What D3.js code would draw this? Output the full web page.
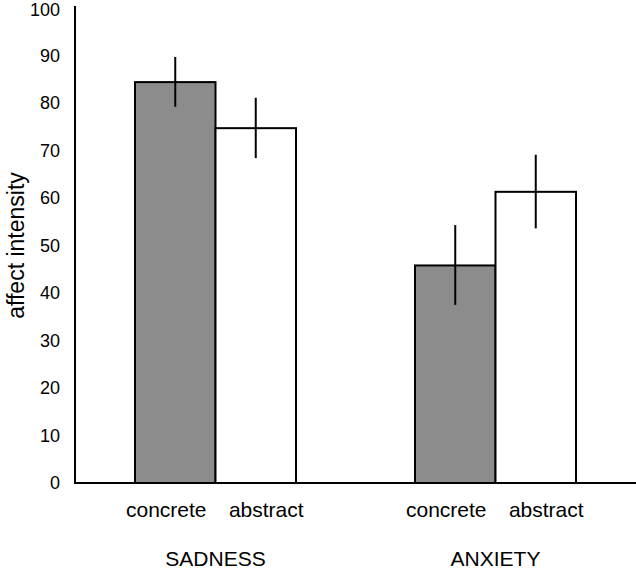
<!DOCTYPE html>
<html>
<head>
<meta charset="utf-8">
<script src="https://cdn.jsdelivr.net/npm/d3@7"></script>
<style>
  html, body { margin: 0; padding: 0; background: #fff; }
  svg { display: block; font-family: "Liberation Sans", Arial, Helvetica, sans-serif; }
</style>
</head>
<body>
<script>
// Data
const groups = ["SADNESS", "ANXIETY"];
const conditions = ["concrete", "abstract"];
const means = [[84.4, 74.7], [45.8, 61.3]];
const errLow = [[79.2, 68.4], [37.5, 53.6]];
const errHigh = [[89.7, 81.1], [54.3, 69.1]];
const yTicks = [0, 10, 20, 30, 40, 50, 60, 70, 80, 90, 100];
const fills = ["#8c8c8c", "#ffffff"];

const W = 636, H = 570;
const svg = d3.select("body").append("svg").attr("width", W).attr("height", H);

const y = d3.scaleLinear().domain([0, 100]).range([483, 8]);
const x0 = d3.scaleBand().domain(groups).range([135, 576]).paddingInner(0.425).paddingOuter(0);
const x1 = d3.scaleBand().domain(conditions).range([0, x0.bandwidth()]).padding(0);

// Bars
groups.forEach((g, gi) => {
  const gEl = svg.append("g").attr("transform", `translate(${x0(g)},0)`);
  conditions.forEach((c, ci) => {
    gEl.append("rect")
      .attr("x", x1(c))
      .attr("y", y(means[gi][ci]))
      .attr("width", x1.bandwidth())
      .attr("height", y(0) - y(means[gi][ci]))
      .attr("fill", fills[ci])
      .attr("stroke", "#000")
      .attr("stroke-width", 2);
  });
});

// Error bars
groups.forEach((g, gi) => {
  conditions.forEach((c, ci) => {
    const cx = x0(g) + x1(c) + x1.bandwidth() / 2;
    svg.append("line")
      .attr("x1", cx).attr("x2", cx)
      .attr("y1", y(errHigh[gi][ci])).attr("y2", y(errLow[gi][ci]))
      .attr("stroke", "#000").attr("stroke-width", 2);
  });
});

// Axes lines
svg.append("line").attr("x1", 75).attr("x2", 75).attr("y1", y(100) - 2).attr("y2", y(0))
  .attr("stroke", "#000").attr("stroke-width", 2);
svg.append("line").attr("x1", 74).attr("x2", W).attr("y1", y(0)).attr("y2", y(0))
  .attr("stroke", "#000").attr("stroke-width", 2);

// Y axis tick labels via d3 axis (no tick lines)
const yAxis = d3.axisLeft(y).tickValues(yTicks).tickSize(0).tickPadding(0).tickFormat(d3.format("d"));
const ya = svg.append("g").attr("transform", "translate(60,0)").call(yAxis);
ya.select(".domain").remove();
ya.selectAll("text").attr("font-size", 18).attr("fill", "#000")
  .attr("font-family", "Liberation Sans, Arial, sans-serif");
ya.selectAll(".tick").filter(d => d === 100).select("text").attr("dy", "0.4em");

// Y label
svg.append("text")
  .attr("transform", `translate(24,245.5) rotate(-90)`)
  .attr("text-anchor", "middle")
  .attr("font-size", 23)
  .text("affect intensity");

// Condition labels (spread slightly apart from bar centres as in the reference)
const labelShift = { concrete: -9, abstract: 10.5 };
groups.forEach((g) => {
  conditions.forEach((c) => {
    svg.append("text")
      .attr("x", x0(g) + x1(c) + x1.bandwidth() / 2 + labelShift[c])
      .attr("y", 517)
      .attr("text-anchor", "middle")
      .attr("font-size", 21)
      .text(c);
  });
  svg.append("text")
    .attr("x", x0(g) + x0.bandwidth() / 2)
    .attr("y", 566)
    .attr("text-anchor", "middle")
    .attr("font-size", 21)
    .text(g);
});
</script>
</body>
</html>
